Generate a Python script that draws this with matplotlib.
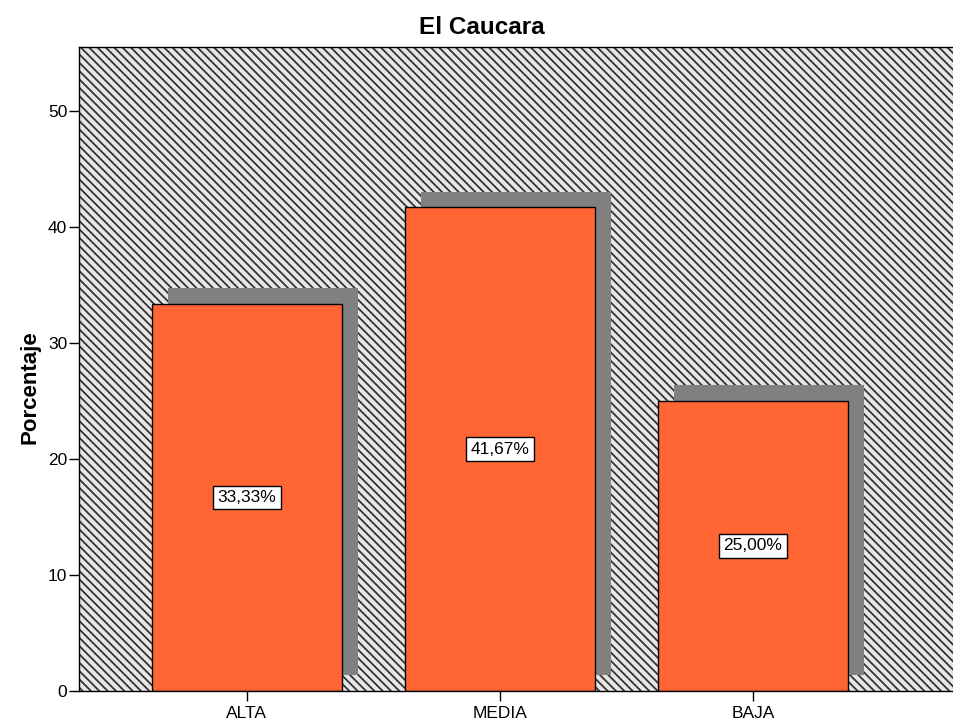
"""
Bar chart: El Caucara, percentage per level (SPSS style).
"""

import matplotlib
matplotlib.use("Agg")
import matplotlib.pyplot as plt
import matplotlib.patheffects as pe
from matplotlib.patches import Rectangle

# Data
categories = ["ALTA", "MEDIA", "BAJA"]
values = [33.33, 41.67, 25.00]
labels = ["33,33%", "41,67%", "25,00%"]
title = "El Caucara"
ylabel = "Porcentaje"

plt.rcParams["font.family"] = ["Liberation Sans", "DejaVu Sans"]
plt.rcParams["hatch.linewidth"] = 1.3

fig = plt.figure(figsize=(9.54, 7.22), dpi=100)
ax = fig.add_axes([79 / 954, 31 / 722, 1 - 79 / 954, 644 / 722])

# Hatched background
bg = Rectangle((0, 0), 1, 1, transform=ax.transAxes, facecolor="#e6e6e6",
               edgecolor="#333333", hatch="\\\\\\\\", linewidth=0, zorder=0)
ax.add_patch(bg)

x = list(range(len(categories)))
bars = ax.bar(x, values, width=0.75, color="#FF6633", edgecolor="black",
              linewidth=1.0, zorder=2)
for b in bars:
    b.set_path_effects([pe.SimplePatchShadow(offset=(11.5, 11.5),
                                             shadow_rgbFace="#808080", alpha=1.0),
                        pe.Normal()])

# Value labels in boxes
for xi, v, lab in zip(x, values, labels):
    ax.text(xi, v / 2, lab, ha="center", va="center", fontsize=12.5, zorder=4,
            bbox=dict(boxstyle="square,pad=0.25", facecolor="white",
                      edgecolor="black", linewidth=1.0))

ax.set_xlim(-0.664, 2.795)
ax.set_ylim(0, 55.5)
ax.set_yticks([0, 10, 20, 30, 40, 50])
ax.set_xticks(x)
ax.set_xticklabels(categories)
ax.tick_params(axis="both", length=7, width=1, labelsize=12.5, pad=1.5,
               colors="black")
ax.tick_params(axis="x", pad=3.5)
for s in ax.spines.values():
    s.set_linewidth(1.0)
    s.set_zorder(5)

fig.text(482 / 954, 1 - 28 / 722, title, ha="center", va="center",
         fontsize=17.5, fontweight="bold")
fig.text(30 / 954, 1 - 387 / 722, ylabel, ha="center", va="center",
         rotation=90, fontsize=16, fontweight="bold")

fig.savefig("out.png", dpi=100)
